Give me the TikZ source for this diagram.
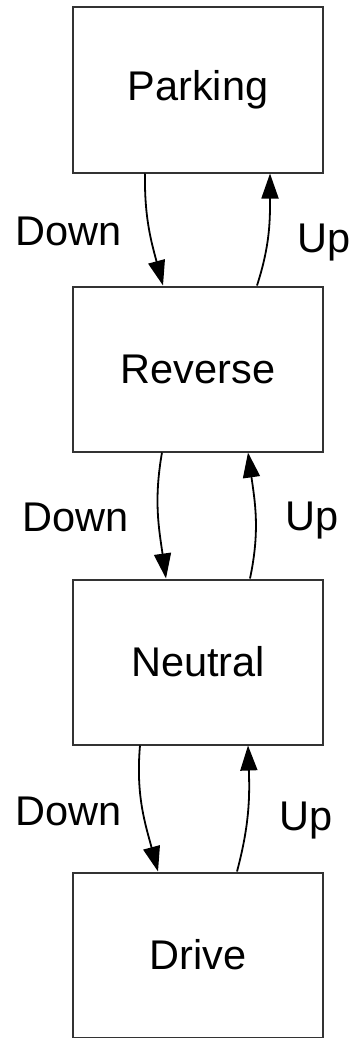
\documentclass[tikz,border=0pt]{standalone}
\usepackage{fontspec}
\setmainfont{Liberation Sans}
\usetikzlibrary{arrows.meta}
\begin{document}
\begin{tikzpicture}[x=1pt,y=1pt,
  state/.style={draw=black!80, line width=2pt, minimum width=250pt, minimum height=165pt, inner sep=0pt, font=\fontsize{41.5}{50}\selectfont},
  lbl/.style={inner sep=0pt, anchor=base west, font=\fontsize{41.5}{50}\selectfont},
  trans/.style={line width=1.8pt, -{Triangle[length=25pt,width=17pt]}}]
\useasboundingbox (0,0) rectangle (356,-1038);
\node[state] (P) at (198,-90) {Parking};
\node[state] (R) at (198,-369) {Reverse};
\node[state] (N) at (198,-662) {Neutral};
\node[state] (D) at (198,-955) {Drive};
\draw[trans] ([xshift=-53pt]P.south) to[out=-91,in=105] ([xshift=-35pt]R.north);
\draw[trans] ([xshift=59pt]R.north) to[out=72,in=-90] ([xshift=72pt]P.south);
\draw[trans] ([xshift=-36pt]R.south) to[out=-100,in=98] ([xshift=-32pt]N.north);
\draw[trans] ([xshift=52pt]N.north) to[out=78,in=-82] ([xshift=50pt]R.south);
\draw[trans] ([xshift=-58pt]N.south) to[out=-95,in=105] ([xshift=-40pt]D.north);
\draw[trans] ([xshift=39pt]D.north) to[out=75,in=-88] ([xshift=50pt]N.south);
\node[lbl] (l1) at (15,-245) {Down};
\node[lbl] (l2) at (297,-252) {Up};
\node[lbl] (l3) at (22,-531) {Down};
\node[lbl] (l4) at (285,-530) {Up};
\node[lbl] (l5) at (15,-825) {Down};
\node[lbl] (l6) at (279,-830) {Up};
\end{tikzpicture}
\end{document}
